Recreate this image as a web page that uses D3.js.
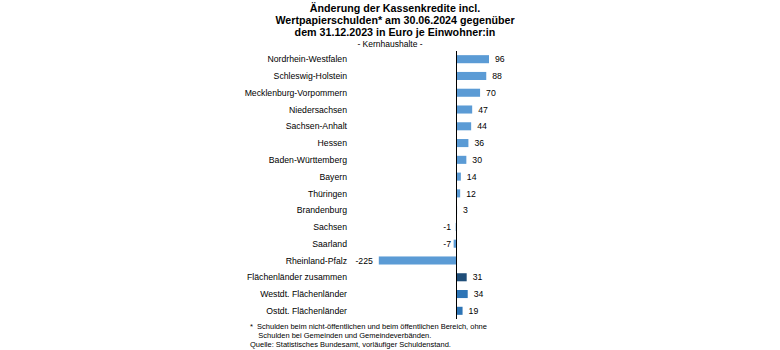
<!DOCTYPE html>
<html><head><meta charset="utf-8">
<script src="https://cdn.jsdelivr.net/npm/d3@7"></script>
<style>body{margin:0;background:#fff}svg{display:block;font-family:"Liberation Sans",Arial,sans-serif}</style>
</head><body><svg id="c" width="780" height="350"></svg>
<script>
const categories = ["Nordrhein-Westfalen","Schleswig-Holstein","Mecklenburg-Vorpommern","Niedersachsen","Sachsen-Anhalt","Hessen","Baden-Württemberg","Bayern","Thüringen","Brandenburg","Sachsen","Saarland","Rheinland-Pfalz","Flächenländer zusammen","Westdt. Flächenländer","Ostdt. Flächenländer"];
const values = [96,88,70,47,44,36,30,14,12,3,-1,-7,-225,31,34,19];
const groups = ["land","land","land","land","land","land","land","land","land","land","land","land","land","total","region","region"];
const titleLines = ["Änderung der Kassenkredite incl.","Wertpapierschulden* am 30.06.2024 gegenüber","dem 31.12.2023 in Euro je Einwohner:in"];
const subtitle = "- Kernhaushalte -";
const notes = ["*  Schulden beim nicht-öffentlichen und beim öffentlichen Bereich, ohne","    Schulden bei Gemeinden und Gemeindeverbänden.","Quelle: Statistisches Bundesamt, vorläufiger Schuldenstand."];
const colors = {land:"#5b9bd5", total:"#1f4e79", region:"#2e75b6"};

const svg = d3.select("#c");
const x = d3.scaleLinear().domain([-225,96]).range([378.8,489]);
const y = d3.scaleBand().domain(categories).range([50.8,319.2]).paddingInner(0.52).paddingOuter(0.26);

svg.append("g").selectAll("text").data(titleLines).join("text")
  .attr("x",395).attr("y",(d,i)=>12+i*11.8).attr("text-anchor","middle")
  .attr("font-weight","bold").attr("font-size",10.7).attr("fill","#000").text(d=>d);
svg.append("text").attr("x",390).attr("y",46.5).attr("text-anchor","middle")
  .attr("font-size",8.5).attr("fill","#000").text(subtitle);

svg.append("g").selectAll("rect").data(values).join("rect")
  .attr("x",d=>x(Math.min(0,d))).attr("width",d=>Math.abs(x(d)-x(0)))
  .attr("y",(d,i)=>y(categories[i])).attr("height",y.bandwidth())
  .attr("fill",(d,i)=>colors[groups[i]]);

svg.append("line").attr("x1",x(0)).attr("x2",x(0)).attr("y1",50.8).attr("y2",319.2)
  .attr("stroke","#000").attr("stroke-width",1).attr("shape-rendering","crispEdges");

svg.append("g").selectAll("text").data(categories).join("text")
  .attr("x",347).attr("y",d=>y(d)+y.bandwidth()/2+3.2).attr("text-anchor","end")
  .attr("font-size",8.7).attr("fill","#000").text(d=>d);

svg.append("g").selectAll("text").data(values).join("text")
  .attr("x",d=>d>=0?x(d)+6:(d<-100?x(d)-6:x(0)-5))
  .attr("y",(d,i)=>y(categories[i])+y.bandwidth()/2+3.2)
  .attr("text-anchor",d=>d>=0?"start":"end")
  .attr("font-size",8.7).attr("fill","#000").text(d=>d);

svg.append("g").selectAll("text").data(notes).join("text")
  .attr("x",250).attr("y",(d,i)=>328.5+i*9).attr("xml:space","preserve")
  .attr("font-size",7.5).attr("fill","#000").text(d=>d);
</script></body></html>
